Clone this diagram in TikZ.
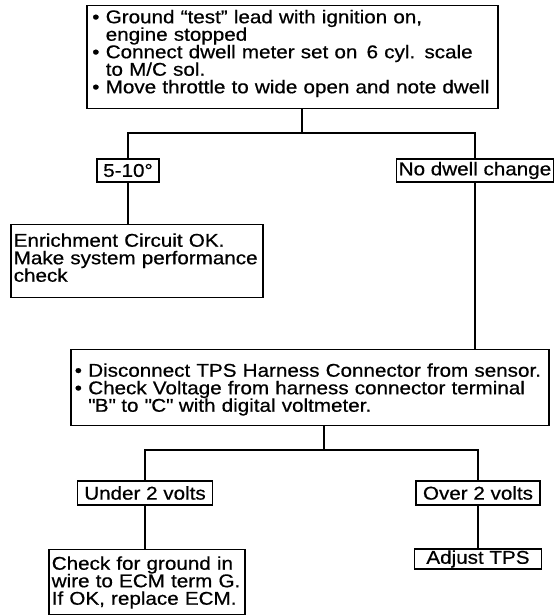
\documentclass[tikz,border=0pt]{standalone}
\usepackage{fontspec}
\setmainfont{Liberation Sans}[FakeStretch=1.115, FakeBold=0.6]
% bullet of fixed width; \cont starts an indented continuation line
\newcommand\bpoint{\par\noindent\makebox[0.73em][l]{\textbullet}}
\newcommand\cont{\par\noindent\hspace*{0.73em}}
% zero-width struts fixing the space above the first and below the last line
\newcommand\topgap[1]{\rule{0pt}{#1}}
\newcommand\botgap[1]{\rule[-#1]{0pt}{0pt}}
\begin{document}
\lineskiplimit=-30pt
\begin{tikzpicture}[x=1pt,y=1pt,
  every node/.style={font=\fontsize{18.5}{17.5}\selectfont},
  panel/.style={draw, line width=1.5pt, anchor=north west, align=left,
    inner xsep=6pt, inner ysep=0pt},
  tag/.style={draw, line width=1.5pt, align=center, inner xsep=2pt, inner ysep=0pt},
  link/.style={line width=1.1pt}]
\useasboundingbox (0,0) rectangle (556,616);

% first test
\node[panel, text width=400pt, inner xsep=5.5pt] (top) at (86,611)
  {\bpoint\topgap{16.6pt}Ground “test” lead with ignition on,\cont engine stopped
   \bpoint Connect dwell meter set on\, 6 cyl. scale\cont to M/C sol.
   \bpoint Move throttle to wide open and note dwell\botgap{15.4pt}};

% dwell results
\node[tag, minimum width=62pt, minimum height=23pt] (c510) at (128,445.5) {5-10°};
\node[tag, minimum width=156pt, minimum height=23pt] (nodw) at (475,445.5) {No dwell change};

\node[panel, text width=246pt, inner xsep=3pt] (enr) at (10,392)
  {\topgap{22pt}Enrichment Circuit OK.\\Make system performance\\check\botgap{16pt}};

% TPS voltage test
\node[panel, text width=470pt, inner xsep=4pt] (tps) at (70,267)
  {\bpoint\topgap{26pt}Disconnect TPS Harness Connector from sensor.
   \bpoint Check Voltage from harness connector terminal\cont
   \textquotedbl B\textquotedbl{} to \textquotedbl C\textquotedbl{} with digital voltmeter.\botgap{14pt}};

% voltage results
\node[tag, minimum width=135pt, minimum height=24pt] (under) at (145,123) {Under 2 volts};
\node[tag, minimum width=124pt, minimum height=24pt] (over) at (478,123) {Over 2 volts};

\node[panel, text width=190pt, inner xsep=3pt] (check) at (48,67)
  {\topgap{20pt}Check for ground in\\wire to ECM term G.\\If OK, replace ECM.\botgap{10pt}};
\node[tag, minimum width=127pt, minimum height=20pt] (adj) at (478,57) {Adjust TPS};

% connectors
\coordinate (j1) at (302,483);
\draw[link] (top.south -| j1) -- (j1);
\draw[link] (c510.north) |- (j1) -| (nodw.north);
\draw[link] (c510.south) -- (c510.south |- enr.north);
\draw[link] (nodw.south) -- (nodw.south |- tps.north);

\coordinate (j2) at (324,166);
\draw[link] (tps.south -| j2) -- (j2);
\draw[link] (under.north) |- (j2) -| (over.north);
\draw[link] (under.south) -- (under.south |- check.north);
\draw[link] (over.south) -- (over.south |- adj.north);
\end{tikzpicture}
\end{document}
